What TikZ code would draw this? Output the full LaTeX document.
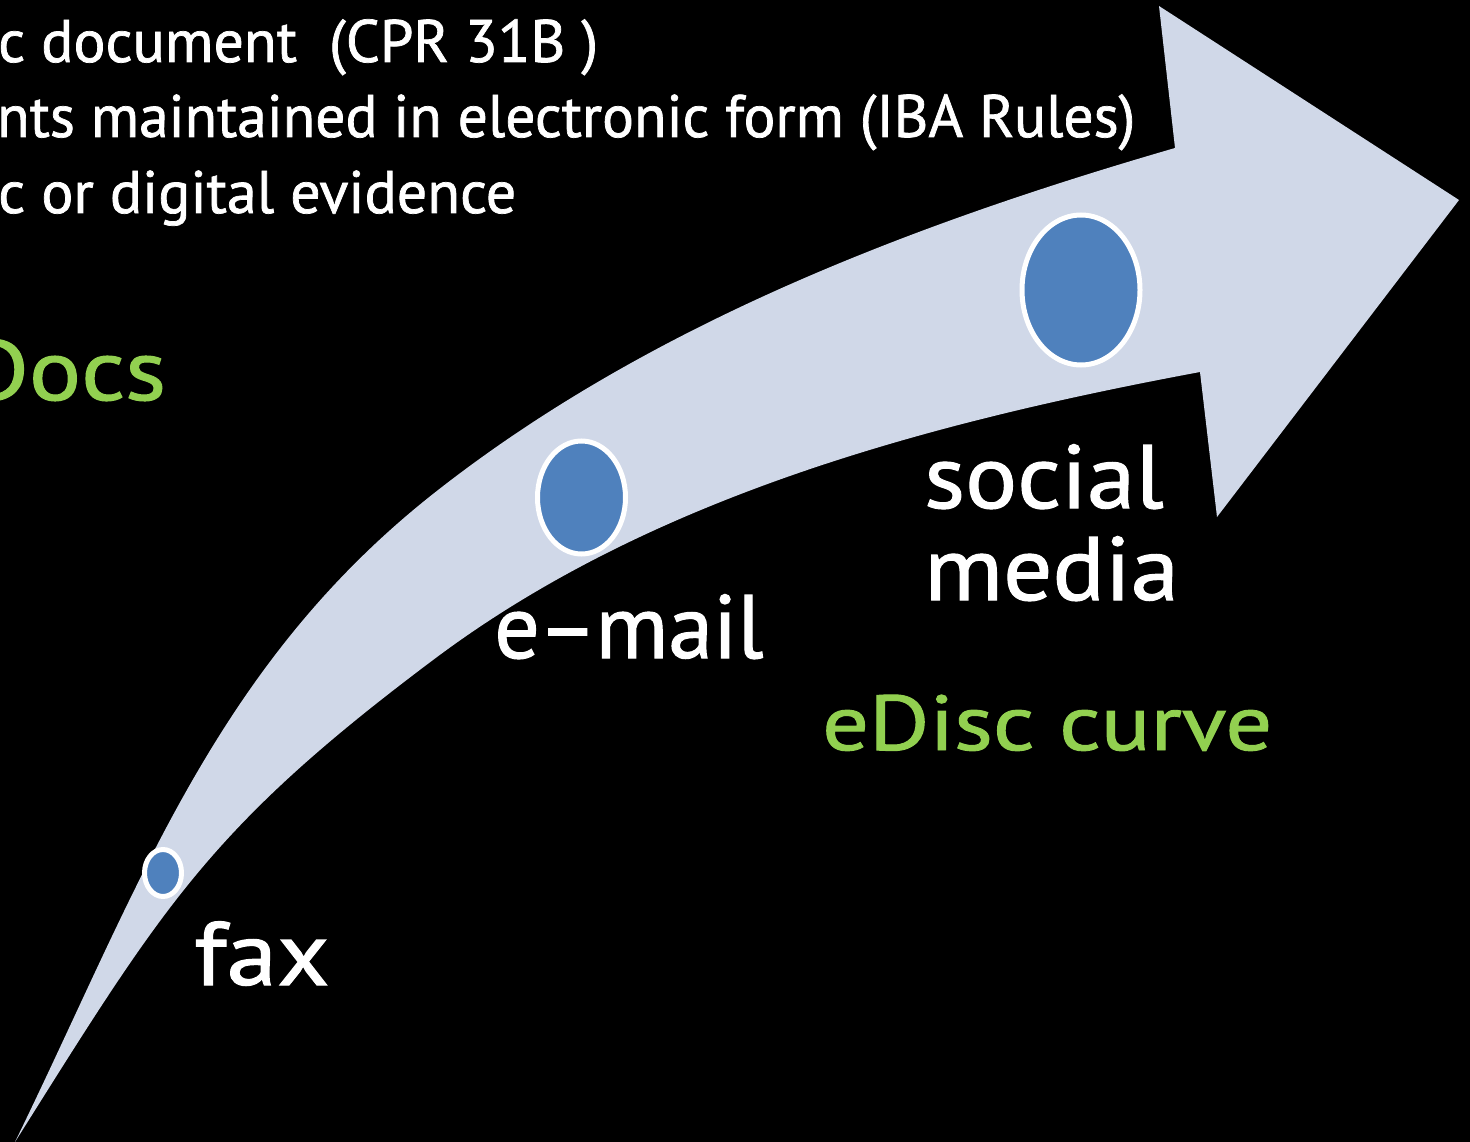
\documentclass[tikz,border=0pt]{standalone}
\usepackage{fontspec}
\setmainfont{PT Sans}[FakeBold=1.2]
\usepackage{graphicx}
\usetikzlibrary{shapes.geometric}

\definecolor{arrowfill}{HTML}{D0D8E8}
\definecolor{dotblue}{HTML}{4F81BD}
\definecolor{leafgreen}{HTML}{92D050}

\newcommand{\fs}[1]{\fontsize{#1}{#1}\selectfont}

\begin{document}
\begin{tikzpicture}[x=1pt,y=-1pt,
  dot/.style={ellipse, draw=white, line width=5pt, fill=dotblue, inner sep=0pt},
  bullettext/.style={anchor=base west, text=white, inner sep=0pt, font=\fs{60}},
  label/.style={anchor=base west, text=white, inner sep=0pt, font=\fs{90}},
  greentext/.style={anchor=base west, text=leafgreen, inner sep=0pt}]

% canvas
\useasboundingbox (0,0) rectangle (1470,1142);
\fill[black] (0,0) rectangle (1470,1142);
\clip (0,0) rectangle (1470,1142);

% curved arrow: outer edge, head, inner edge back to the tail point
\fill[arrowfill]
  (15,1142) .. controls (138,890) and (213,668) .. (433,494)
            .. controls (647,325) and (913,224) .. (1175,148)
  -- (1159,6) -- (1459,200) -- (1217,517) -- (1200,372)
            .. controls (932,422) and (651,496) .. (433,660)
            .. controls (209,828) and (164,905) .. (15,1142)
  -- cycle;

% milestones on the curve
\node[dot, minimum width=37pt, minimum height=47pt] (faxdot) at (163,873) {};
\node[dot, minimum width=88pt, minimum height=113pt] (maildot) at (581.5,497.5) {};
\node[dot, minimum width=118pt, minimum height=150pt] (socialdot) at (1081,290) {};

% bullet lines
\node[bullettext] (cpr) at (-2,62) {\resizebox{600pt}{\height}{c document~~(CPR 31B~)}};
\node[bullettext] (iba) at (-3,137) {\resizebox{1138pt}{\height}{nts maintained in electronic form (IBA Rules)}};
\node[bullettext] (evid) at (-2,213) {\resizebox{518pt}{\height}{c or digital evidence}};

\node[greentext, font=\fs{86}] (docs) at (-35,400) {\resizebox{201pt}{\height}{Docs}};

% labels
\node[label] (fax) at (194,985) {\scalebox{1.13}[1]{fax}};
\node[label] (email) at (494,658) {e\kern-2pt–\kern-2pt mail};
\node[label] (social) at (924,508) {\scalebox{1.08}[1]{social}};
\node[label] (media) at (924,600) {\scalebox{1.08}[1]{media}};
\node[greentext, font=\fs{78}] (curve) at (822,750) {\resizebox{450pt}{\height}{eDisc curve}};

\end{tikzpicture}
\end{document}
